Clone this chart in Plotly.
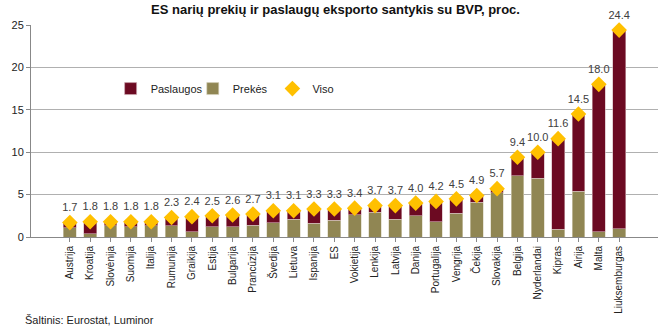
import plotly.graph_objects as go

countries = ["Austrija", "Kroatija", "Slovėnija", "Suomija", "Italija", "Rumunija", "Graikija",
             "Estija", "Bulgarija", "Prancūzija", "Švedija", "Lietuva", "Ispanija", "ES",
             "Vokietija", "Lenkija", "Latvija", "Danija", "Portugalija", "Vengrija", "Čekija",
             "Slovakija", "Belgija", "Nyderlandai", "Kipras", "Airija", "Malta", "Liuksemburgas"]
total = [1.7, 1.8, 1.8, 1.8, 1.8, 2.3, 2.4, 2.5, 2.6, 2.7, 3.1, 3.1, 3.3, 3.3, 3.4, 3.7, 3.7,
         4.0, 4.2, 4.5, 4.9, 5.7, 9.4, 10.0, 11.6, 14.5, 18.0, 24.4]
goods = [1.1, 0.4, 1.3, 1.2, 1.3, 1.3, 0.6, 1.2, 1.2, 1.4, 1.7, 2.1, 1.6, 2.0, 2.6, 2.9, 2.1,
         2.5, 1.8, 2.8, 4.1, 5.2, 7.2, 6.9, 0.9, 5.4, 0.6, 1.0]
services = [round(t - g, 2) for t, g in zip(total, goods)]
y_ticks = [0, 5, 10, 15, 20, 25]

fig = go.Figure()
fig.add_trace(go.Bar(x=countries, y=goods, name="Prekės", marker_color="#908653",
                     marker_line=dict(color="#d8d4c0", width=0.6), legend="legend2"))
fig.add_trace(go.Bar(x=countries, y=services, name="Paslaugos", marker_color="#6C0A22",
                     marker_line=dict(color="#d0b0b8", width=0.6), legend="legend"))
fig.add_trace(go.Scatter(x=countries, y=total, name="Viso", mode="markers+text",
                         marker=dict(symbol="diamond", color="#FFC000", size=12),
                         text=[f"{v:.1f}" for v in total], textposition="top center",
                         textfont=dict(size=11, color="#404040"), legend="legend3",
                         cliponaxis=False))

leg_common = dict(orientation="h", y=0.70, xanchor="left", yanchor="middle",
                  bgcolor="rgba(0,0,0,0)", font=dict(size=11), itemwidth=30)

fig.update_layout(
    width=671, height=331,
    margin=dict(l=22, r=13, t=25, b=94),
    barmode="stack", bargap=0.37,
    plot_bgcolor="white", paper_bgcolor="white",
    font=dict(family="Liberation Sans Narrow, Liberation Sans, Arial", size=11, color="#222"),
    title=dict(text="<b>ES narių prekių ir paslaugų eksporto santykis su BVP, proc.</b>",
               x=0.5, xanchor="center", y=0.985, yanchor="top",
               font=dict(size=13, color="#111")),
    showlegend=True,
    legend=dict(x=0.127, **leg_common),
    legend2=dict(x=0.258, **leg_common),
    legend3=dict(x=0.385, **leg_common),
    xaxis=dict(tickangle=-90, showline=True, linecolor="#888", linewidth=1,
               ticks="outside", ticklen=4, tickcolor="#888", tickfont=dict(size=10),
               showgrid=False),
    yaxis=dict(range=[0, 25], tickvals=y_ticks, showline=True, linecolor="#888",
               linewidth=1, ticks="outside", ticklen=4, tickcolor="#888",
               gridcolor="#b0b0b0", gridwidth=1, tickfont=dict(size=11), zeroline=False),
    annotations=[dict(text="Šaltinis: Eurostat, Luminor", x=(14 - 22) / 636,
                      y=-(320 - 237) / 212, xref="paper", yref="paper",
                      xanchor="left", yanchor="middle", showarrow=False,
                      font=dict(size=11))]
)
fig.write_html("out.html")
